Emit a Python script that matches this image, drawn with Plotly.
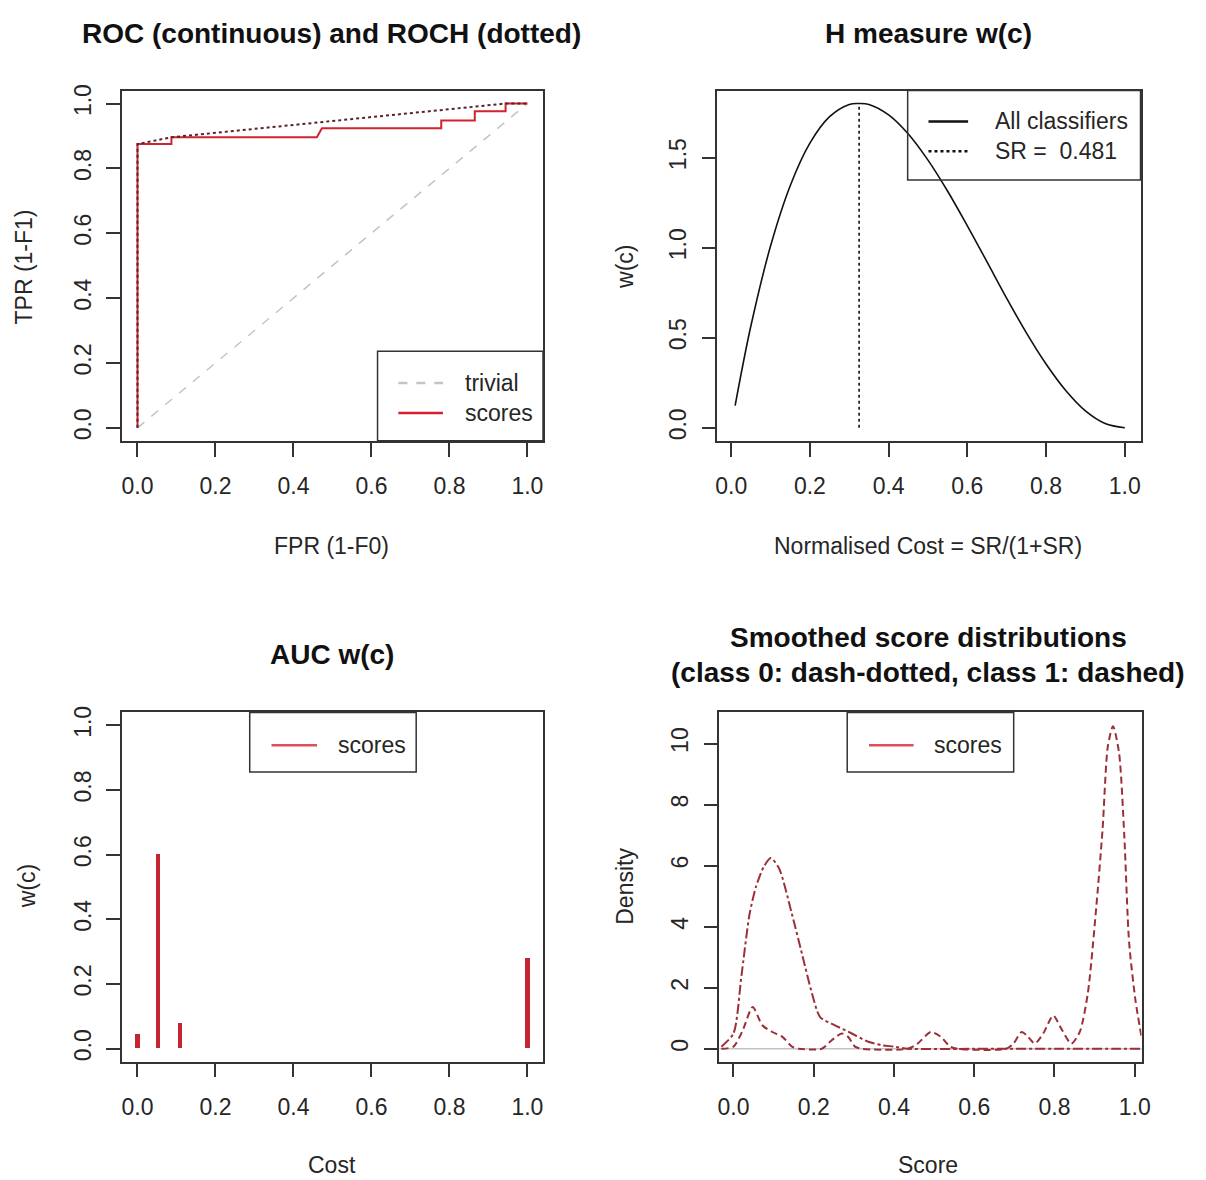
import plotly.graph_objects as go

W, H = 1206, 1180
FONT = "Liberation Sans, Arial, sans-serif"
INK = "#262626"
RED = "#d0232e"
DARK_RED = "#9c2f38"
GREY = "#c4c4c4"

# ---- ROC panel ----
roc_fpr = [0.0, 0.0, 0.087, 0.087, 0.46, 0.473, 0.779, 0.779, 0.865, 0.865, 0.944, 0.944, 1.0]
roc_tpr = [0.0, 0.875, 0.875, 0.896, 0.896, 0.924, 0.924, 0.948, 0.948, 0.976, 0.976, 1.0, 1.0]
hull_fpr = [0.0, 0.0, 0.087, 0.944, 1.0]
hull_tpr = [0.0, 0.875, 0.896, 1.0, 1.0]
trivial_x = [0.0, 1.0]
trivial_y = [0.0, 1.0]

# ---- H measure panel ----
h_cost = [0.01, 0.05, 0.10, 0.15, 0.20, 0.25, 0.30, 0.325, 0.35, 0.40, 0.45, 0.50,
          0.55, 0.60, 0.65, 0.70, 0.75, 0.80, 0.85, 0.90, 0.95, 1.0]
h_w = [0.123, 0.565, 1.009, 1.344, 1.580, 1.727, 1.795, 1.800, 1.795, 1.737, 1.631, 1.486,
       1.313, 1.121, 0.921, 0.719, 0.527, 0.354, 0.207, 0.094, 0.024, 0.0]
sr_cost = [0.325, 0.325]
sr_w = [0.0, 1.80]
sr_label = "SR =  0.481"

# ---- AUC w(c) panel ----
auc_cost = [0.0, 0.053, 0.109, 1.0]
auc_w = [0.045, 0.60, 0.078, 0.28]

# ---- smoothed score densities ----
class0_x = [-0.03, 0.0, 0.02, 0.04, 0.056, 0.075, 0.093, 0.114, 0.146, 0.171, 0.196, 0.216,
            0.253, 0.295, 0.336, 0.369, 0.40, 0.435, 0.6, 0.8, 0.95, 1.017]
class0_y = [0.07, 0.5, 2.4, 4.4, 5.3, 5.95, 6.25, 5.9, 4.4, 3.1, 1.8, 1.04,
            0.77, 0.5, 0.23, 0.12, 0.07, 0.0, 0.0, 0.0, 0.0, 0.0]
class1_x = [-0.03, 0.0, 0.023, 0.048, 0.072, 0.097, 0.122, 0.146, 0.163, 0.22, 0.245, 0.27,
            0.286, 0.303, 0.32, 0.435, 0.459, 0.492, 0.517, 0.54, 0.558, 0.68, 0.698, 0.718,
            0.731, 0.751, 0.772, 0.797, 0.817, 0.842, 0.863, 0.883, 0.904, 0.92, 0.933, 0.946,
            0.961, 0.974, 0.986, 1.002, 1.017]
class1_y = [0.0, 0.07, 0.6, 1.37, 0.77, 0.55, 0.39, 0.07, 0.0, 0.0, 0.28, 0.5,
            0.39, 0.07, 0.0, 0.0, 0.17, 0.55, 0.39, 0.07, 0.0, 0.0, 0.17, 0.55,
            0.44, 0.17, 0.5, 1.09, 0.66, 0.17, 0.55, 1.8, 4.6, 7.2, 9.9, 10.57,
            9.7, 7.0, 3.5, 1.58, 0.39]

# plot boxes in pixels: (left, right, top, bottom)
boxes = {
    1: (121, 546, 85, 437),
    2: (722, 1149, 85, 437),
    3: (121, 546, 710, 1061),
    4: (724, 1150, 710, 1061),
}


def px(x):
    return x / W


def py(y):
    return 1 - y / H


fig = go.Figure()

# ROC
fig.add_trace(go.Scatter(x=trivial_x, y=trivial_y, mode="lines",
                         line=dict(color=GREY, width=1.5, dash="dash"), xaxis="x", yaxis="y"))
fig.add_trace(go.Scatter(x=roc_fpr, y=roc_tpr, mode="lines",
                         line=dict(color=RED, width=2), xaxis="x", yaxis="y"))
fig.add_trace(go.Scatter(x=hull_fpr, y=hull_tpr, mode="lines",
                         line=dict(color="#5a2328", width=2, dash="dot"), xaxis="x", yaxis="y"))

# H measure
fig.add_trace(go.Scatter(x=h_cost, y=h_w, mode="lines", line_shape="spline",
                         line=dict(color="#111111", width=1.6), xaxis="x2", yaxis="y2"))
fig.add_trace(go.Scatter(x=sr_cost, y=sr_w, mode="lines",
                         line=dict(color="#111111", width=1.6, dash="dot"), xaxis="x2", yaxis="y2"))

# AUC w(c)
fig.add_trace(go.Bar(x=auc_cost, y=auc_w, width=0.011, marker=dict(color="#c42631", line_width=0),
                     xaxis="x3", yaxis="y3"))

# densities
fig.add_trace(go.Scatter(x=class0_x, y=class0_y, mode="lines", line_shape="spline",
                         line=dict(color=DARK_RED, width=2, dash="10px,3px,3px,3px", smoothing=0.7),
                         xaxis="x4", yaxis="y4"))
fig.add_trace(go.Scatter(x=class1_x, y=class1_y, mode="lines", line_shape="spline",
                         line=dict(color=DARK_RED, width=2, dash="7px,4px", smoothing=0.7),
                         xaxis="x4", yaxis="y4"))

axis_style = dict(showline=True, linecolor="#333333", linewidth=1.5, mirror=True,
                  ticks="outside", ticklen=14, tickwidth=1.5, tickcolor="#333333",
                  showgrid=False, zeroline=False, tickfont=dict(size=23, color=INK, family=FONT))

ranges = {
    1: ([-0.04, 1.04], [-0.04, 1.04], [0, 0.2, 0.4, 0.6, 0.8, 1.0], ".1f"),
    2: ([-0.035, 1.04], [-0.072, 1.872], [0, 0.5, 1.0, 1.5], ".1f"),
    3: ([-0.04, 1.04], [-0.04, 1.04], [0, 0.2, 0.4, 0.6, 0.8, 1.0], ".1f"),
    4: ([-0.035, 1.017], [-0.42, 11.02], [0, 2, 4, 6, 8, 10], "d"),
}

layout = dict(width=W, height=H, margin=dict(l=0, r=0, t=0, b=0),
              plot_bgcolor="white", paper_bgcolor="white", showlegend=False,
              font=dict(family=FONT, color=INK), bargap=0)
for i, (l, r, t, b) in boxes.items():
    xr, yr, yticks, yfmt = ranges[i]
    sfx = "" if i == 1 else str(i)
    layout["xaxis" + sfx] = dict(axis_style, domain=[px(l), px(r)], range=xr,
                                 tickvals=[0, 0.2, 0.4, 0.6, 0.8, 1.0], tickformat=".1f",
                                 ticklabelstandoff=10, anchor="y" + sfx)
    layout["yaxis" + sfx] = dict(axis_style, domain=[py(b), py(t)], range=yr,
                                 tickvals=yticks, tickformat=yfmt, tickangle=-90,
                                 ticklabelstandoff=6, anchor="x" + sfx)
fig.update_layout(**layout)

# zero line in density panel
fig.add_shape(type="line", xref="x4 domain", yref="y4", x0=0, x1=1, y0=0, y1=0,
              line=dict(color=GREY, width=1.5), layer="below")

# titles and axis labels
texts = [
    ("ROC (continuous) and ROCH (dotted)", 333, 28, 28, True, 0),
    ("H measure w(c)", 935, 28, 28, True, 0),
    ("AUC w(c)", 333, 652, 28, True, 0),
    ("Smoothed score distributions", 935, 635, 28, True, 0),
    ("(class 0: dash-dotted, class 1: dashed)", 935, 670, 28, True, 0),
    ("FPR (1-F0)", 333, 543, 23, False, 0),
    ("TPR (1-F1)", 22, 262, 23, False, -90),
    ("Normalised Cost = SR/(1+SR)", 935, 543, 23, False, 0),
    ("w(c)", 628, 262, 23, False, -90),
    ("Cost", 333, 1165, 23, False, 0),
    ("w(c)", 25, 885, 23, False, -90),
    ("Score", 935, 1165, 23, False, 0),
    ("Density", 628, 885, 23, False, -90),
]
for txt, x, y, size, bold, ang in texts:
    fig.add_annotation(text=f"<b>{txt}</b>" if bold else txt, x=px(x), y=py(y),
                       xref="paper", yref="paper", showarrow=False, textangle=ang,
                       font=dict(size=size, color="#111111" if bold else INK, family=FONT),
                       xanchor="center", yanchor="middle")

# legends drawn R-style: box, line samples, labels (pixels)
legends = [
    ((379, 546, 347, 437), [("trivial", GREY, "dash", 379), ("scores", RED, "solid", 409)], 400, 445, 465),
    ((914, 1149, 85, 175), [("All classifiers", "#111111", "solid", 116),
                            (sr_label, "#111111", "dot", 146)], 935, 975, 1000),
    ((250, 418, 710, 770), [("scores", "#e0505c", "solid", 743)], 272, 318, 337),
    ((853, 1021, 710, 770), [("scores", "#e0505c", "solid", 743)], 875, 920, 939),
]
for (l, r, t, b), items, lx0, lx1, tx in legends:
    fig.add_shape(type="rect", xref="paper", yref="paper", x0=px(l), x1=px(r), y0=py(b), y1=py(t),
                  line=dict(color="#333333", width=1.5), fillcolor="rgba(0,0,0,0)", layer="above")
    for label, col, dash, yy in items:
        fig.add_shape(type="line", xref="paper", yref="paper", x0=px(lx0), x1=px(lx1),
                      y0=py(yy), y1=py(yy), line=dict(color=col, width=2.5, dash=dash), layer="above")
        fig.add_annotation(text=label, x=px(tx), y=py(yy), xref="paper", yref="paper",
                           showarrow=False, xanchor="left", yanchor="middle",
                           font=dict(size=23, color=INK, family=FONT))

fig.write_html("out.html", config={"displayModeBar": False},
               post_script="document.body.style.margin='0';document.body.style.overflow='hidden';")
